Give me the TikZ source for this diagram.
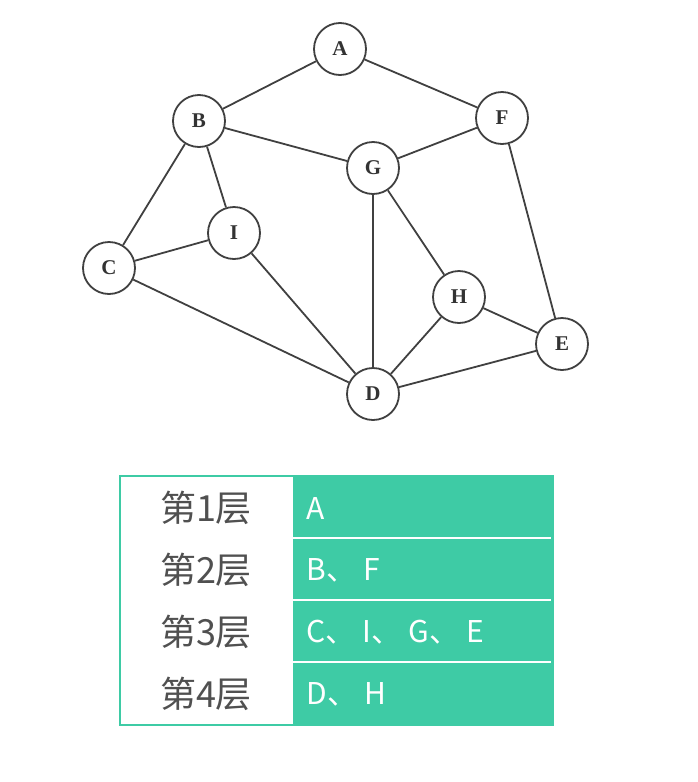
\documentclass[tikz,border=0pt]{standalone}
\usepackage{fontspec}
\setmainfont{Liberation Serif}
\newfontfamily\cjk{Noto Sans CJK SC}
\definecolor{levelgreen}{RGB}{62,203,165}
\definecolor{labelgray}{RGB}{80,80,80}
\newcommand{\dunhao}{、\hskip 7pt\relax}
\tikzset{vertex/.style={circle,draw=black!75,line width=1.8pt,fill=white,
  minimum size=52pt,inner sep=0pt,font=\bfseries\fontsize{21}{21}\selectfont,text=black!80}}
\tikzset{edge/.style={draw=black!75,line width=1.8pt}}
\tikzset{levelname/.style={font=\cjk\fontsize{36}{36}\selectfont,text=labelgray}}
\tikzset{levelnodes/.style={anchor=west,font=\cjk\fontsize{30}{30}\selectfont,text=white}}

\begin{document}
\begin{tikzpicture}[x=1pt,y=-1pt]
\useasboundingbox (0,0) rectangle (698,782);

% graph
\node[vertex] (A) at (340,49) {A};
\node[vertex] (B) at (199,121) {B};
\node[vertex] (F) at (502,118) {F};
\node[vertex] (G) at (373,168) {G};
\node[vertex] (I) at (234,233) {I};
\node[vertex] (C) at (109,268) {C};
\node[vertex] (H) at (459,297) {H};
\node[vertex] (E) at (562,344) {E};
\node[vertex] (D) at (373,394) {D};

\foreach \u/\v in {A/B,A/F,B/G,F/G,B/C,B/I,C/I,C/D,I/D,G/D,G/H,H/D,H/E,F/E,D/E}{
  \draw[edge] (\u) -- (\v);
}

% levels table
\fill[levelgreen] (293,476) rectangle (553,725);
\foreach \y in {538,600,662}{
  \draw[white,line width=2pt] (293,\y) -- (551,\y);
}
\draw[levelgreen,line width=2pt] (120,476) rectangle (553,725);

\foreach \n/\y/\txt in {1/508/A,2/570/{B\dunhao F},3/632/{C\dunhao I\dunhao G\dunhao E},4/694/{D\dunhao H}}{
  \node[levelname] (name\n) at (206,\y) {第{\n}层};
  \node[levelnodes] (level\n) at (303,\y) {\txt};
}
\end{tikzpicture}
\end{document}
